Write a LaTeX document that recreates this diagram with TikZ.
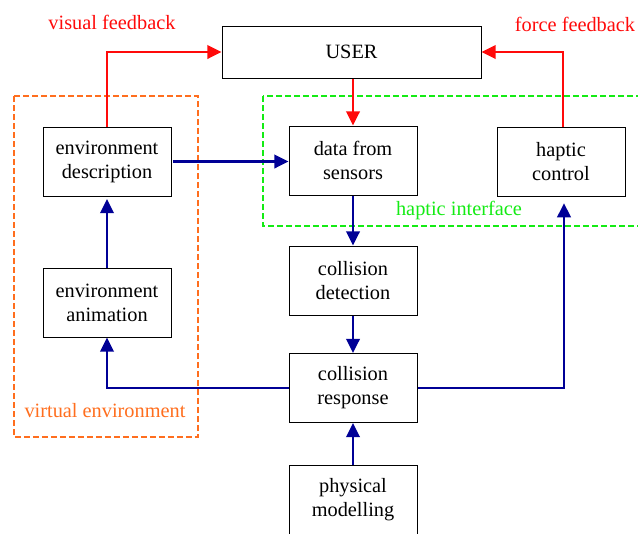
\documentclass[tikz,border=0pt]{standalone}
\usepackage{fontspec}
\setmainfont{Liberation Serif}
\usetikzlibrary{arrows.meta}
\definecolor{fbred}{RGB}{255,10,10}
\definecolor{flowblue}{RGB}{0,0,150}
\definecolor{venvorange}{RGB}{255,110,30}
\definecolor{hapgreen}{RGB}{20,235,20}
\tikzset{
  block/.style    = {shape=rectangle, draw, line width=0.6pt, align=center,
                     minimum width=76.8pt, minimum height=41.4pt,
                     font=\fontsize{12.2}{14.4}\selectfont},
  userbox/.style  = {block, minimum width=155.4pt, minimum height=31.2pt},
  feedback/.style = {draw=fbred, line width=1.7pt,
                     -{Triangle[length=8.5pt,width=8pt]}},
  flow/.style     = {draw=flowblue, line width=1.7pt,
                     -{Triangle[length=8.5pt,width=8pt]}},
  region/.style   = {dashed, line width=1.2pt, dash pattern=on 3.6pt off 1.8pt},
  tag/.style      = {font=\fontsize{12.2}{14.4}\selectfont}
}
\begin{document}
\begin{tikzpicture}[x=0.6pt,y=-0.6pt]
  \useasboundingbox (0,0) rectangle (638,533);

  % dashed regions
  \draw[region, venvorange] (14,96) rectangle (198,437);
  \draw[region, hapgreen] (263,96) rectangle (660,226);

  % blocks
  \node[userbox] (user)     at (351.5,52)  {USER};
  \node[block]   (envdesc)  at (107,161.5) {environment\\description};
  \node[block]   (sensors)  at (353,160.5) {data from\\sensors};
  \node[block]   (haptic)   at (561,161.5) {haptic\\control};
  \node[block]   (envanim)  at (107,302.5) {environment\\animation};
  \node[block]   (detect)   at (353,280.5) {collision\\detection};
  \node[block]   (response) at (353,388)   {collision\\response};
  \node[block]   (physical) at (353,500)   {physical\\modelling};

  % labels
  \node[tag, fbred]      (vislabel) at (112,22)  {visual feedback};
  \node[tag, fbred]      (frclabel) at (575,24)  {force feedback};
  \node[tag, hapgreen]   (haplabel) at (459,210) {haptic interface};
  \node[tag, venvorange] (envlabel) at (105,411) {virtual environment};

  % feedback to the user
  \draw[feedback] (envdesc.north) |- (user.west);
  \draw[feedback] ([xshift=1.2pt]haptic.north) |- (user.east);
  \draw[feedback] (user.south -| sensors.north) -- (sensors.north);

  % data flow
  \draw[flow] ([xshift=1pt]envdesc.east) -- (envdesc.east -| sensors.west);
  \draw[flow] (sensors) -- (detect);
  \draw[flow] (detect) -- (response);
  \draw[flow] (physical) -- (response);
  \draw[flow] (envanim) -- ([yshift=-1.5pt]envdesc.south);
  \draw[flow] (response.west) -| (envanim.south);
  \draw[flow, shorten >=4pt] (response.east) -| ([xshift=1.8pt]haptic.south);
\end{tikzpicture}
\end{document}
